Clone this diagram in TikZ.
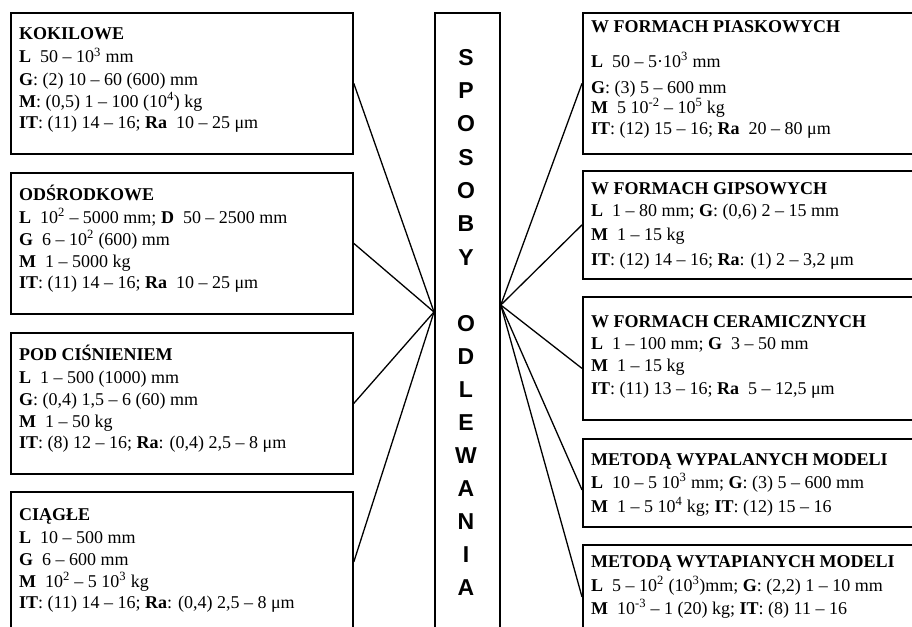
\documentclass[tikz,border=0pt]{standalone}
\usepackage{fontspec}
\setmainfont{Liberation Serif}
\newfontfamily\arialfam{Liberation Sans}
\newcommand\spr[1]{\textsuperscript{#1}}
\tikzset{
  box/.style={draw=black, line width=1.8pt, anchor=north west, inner sep=0pt, fill=none},
  conn/.style={draw=black, line width=1.3pt},
  txt/.style={anchor=base west, inner sep=0pt, font=\fontsize{18pt}{22pt}\selectfont},
  letter/.style={anchor=base, inner sep=0pt, font=\arialfam\bfseries\fontsize{23pt}{23pt}\selectfont}
}
\begin{document}
\begin{tikzpicture}[x=1pt, y=-1pt]
\useasboundingbox (0,0) rectangle (912,626);
\clip (0,0) rectangle (912,626);
\fill[white] (0,0) rectangle (912,626);

% left boxes
\node[box, minimum width=342pt, minimum height=141pt] (kok) at (10,12) {};
\node[box, minimum width=342pt, minimum height=141pt] (ods) at (10,172) {};
\node[box, minimum width=342pt, minimum height=141pt] (pod) at (10,332) {};
\node[box, minimum width=342pt, minimum height=140pt] (cia) at (10,491) {};
% center box
\node[box, minimum width=65pt, minimum height=640pt] (cbox) at (434,12) {};
% right boxes
\node[box, minimum width=348pt, minimum height=141pt] (pia) at (582,12) {};
\node[box, minimum width=348pt, minimum height=108pt] (gip) at (582,170) {};
\node[box, minimum width=348pt, minimum height=123pt] (cer) at (582,296) {};
\node[box, minimum width=348pt, minimum height=88pt] (wyp) at (582,438) {};
\node[box, minimum width=348pt, minimum height=104pt] (wyt) at (582,544) {};

% convergence points on the center box
\coordinate (cl) at ([yshift=-300pt]cbox.north west);
\coordinate (cr) at ([yshift=-293pt]cbox.north east);

% connectors
\draw[conn] (kok.east) -- (cl);
\draw[conn] (ods.east) -- (cl);
\draw[conn] (pod.east) -- (cl);
\draw[conn] (cia.east) -- (cl);
\draw[conn] (cr) -- (pia.west);
\draw[conn] (cr) -- (gip.west);
\draw[conn] (cr) -- ([yshift=-10pt]cer.west);
\draw[conn] (cr) -- ([yshift=-7pt]wyp.west);
\draw[conn] (cr) -- (wyt.west);

% center letters
\node[letter] (s1) at (466,65) {S};
\node[letter] (s2) at (466,98.3) {P};
\node[letter] (s3) at (466,131.7) {O};
\node[letter] (s4) at (466,165) {S};
\node[letter] (s5) at (466,198.3) {O};
\node[letter] (s6) at (466,231.7) {B};
\node[letter] (s7) at (466,265) {Y};
\node[letter] (o1) at (466,331) {O};
\node[letter] (o2) at (466,364) {D};
\node[letter] (o3) at (466,397) {L};
\node[letter] (o4) at (466,430) {E};
\node[letter] (o5) at (466,463) {W};
\node[letter] (o6) at (466,496) {A};
\node[letter] (o7) at (466,529) {N};
\node[letter] (o8) at (466,562) {I};
\node[letter] (o9) at (466,595) {A};

% KOKILOWE
\node[txt] (k1) at (19,40) {\textbf{KOKILOWE}};
\node[txt] (k2) at (19,63) {\textbf{L}\ \ 50 – 10\spr{3} mm};
\node[txt] (k3) at (19,85) {\textbf{G}: (2) 10 – 60 (600) mm};
\node[txt] (k4) at (19,107) {\textbf{M}: (0,5) 1 – 100 (10\spr{4}) kg};
\node[txt] (k5) at (19,128) {\textbf{IT}: (11) 14 – 16; \textbf{Ra}\ \ 10 – 25 μm};

% ODSRODKOWE
\node[txt] (d1) at (19,200) {\textbf{ODŚRODKOWE}};
\node[txt] (d2) at (19,223) {\textbf{L}\ \ 10\spr{2} – 5000 mm; \textbf{D}\ \ 50 – 2500 mm};
\node[txt] (d3) at (19,245) {\textbf{G}\ \ 6 – 10\spr{2} (600) mm};
\node[txt] (d4) at (19,267) {\textbf{M}\ \ 1 – 5000 kg};
\node[txt] (d5) at (19,288) {\textbf{IT}: (11) 14 – 16; \textbf{Ra}\ \ 10 – 25 μm};

% POD CISNIENIEM
\node[txt] (p1) at (19,360) {\textbf{POD CIŚNIENIEM}};
\node[txt] (p2) at (19,383) {\textbf{L}\ \ 1 – 500 (1000) mm};
\node[txt] (p3) at (19,405) {\textbf{G}: (0,4) 1,5 – 6 (60) mm};
\node[txt] (p4) at (19,427) {\textbf{M}\ \ 1 – 50 kg};
\node[txt] (p5) at (19,448) {\textbf{IT}: (8) 12 – 16; \textbf{Ra}: (0,4) 2,5 – 8 μm};

% CIAGLE
\node[txt] (c1) at (19,520) {\textbf{CIĄGŁE}};
\node[txt] (c2) at (19,543) {\textbf{L}\ \ 10 – 500 mm};
\node[txt] (c3) at (19,565) {\textbf{G}\ \ 6 – 600 mm};
\node[txt] (c4) at (19,587) {\textbf{M}\ \ 10\spr{2} – 5 10\spr{3} kg};
\node[txt] (c5) at (19,608) {\textbf{IT}: (11) 14 – 16; \textbf{Ra}: (0,4) 2,5 – 8 μm};

% PIASKOWYCH
\node[txt] (r1) at (591,33) {\textbf{W FORMACH PIASKOWYCH}};
\node[txt] (r2) at (591,67) {\textbf{L}\ \ 50 – 5·10\spr{3} mm};
\node[txt] (r3) at (591,93) {\textbf{G}: (3) 5 – 600 mm};
\node[txt] (r4) at (591,113) {\textbf{M}\ \ 5 10\spr{-2} – 10\spr{5} kg};
\node[txt] (r5) at (591,134) {\textbf{IT}: (12) 15 – 16; \textbf{Ra}\ \ 20 – 80 μm};

% GIPSOWYCH
\node[txt] (g1) at (591,194) {\textbf{W FORMACH GIPSOWYCH}};
\node[txt] (g2) at (591,216) {\textbf{L}\ \ 1 – 80 mm; \textbf{G}: (0,6) 2 – 15 mm};
\node[txt] (g3) at (591,240) {\textbf{M}\ \ 1 – 15 kg};
\node[txt] (g4) at (591,265) {\textbf{IT}: (12) 14 – 16; \textbf{Ra}: (1) 2 – 3,2 μm};

% CERAMICZNYCH
\node[txt] (e1) at (591,327) {\textbf{W FORMACH CERAMICZNYCH}};
\node[txt] (e2) at (591,349) {\textbf{L}\ \ 1 – 100 mm; \textbf{G}\ \ 3 – 50 mm};
\node[txt] (e3) at (591,371) {\textbf{M}\ \ 1 – 15 kg};
\node[txt] (e4) at (591,394) {\textbf{IT}: (11) 13 – 16; \textbf{Ra}\ \ 5 – 12,5 μm};

% WYPALANYCH
\node[txt] (w1) at (591,465) {\textbf{METODĄ WYPALANYCH MODELI}};
\node[txt] (w2) at (591,488) {\textbf{L}\ \ 10 – 5 10\spr{3} mm; \textbf{G}: (3) 5 – 600 mm};
\node[txt] (w3) at (591,512) {\textbf{M}\ \ 1 – 5 10\spr{4} kg; \textbf{IT}: (12) 15 – 16};

% WYTAPIANYCH
\node[txt] (t1) at (591,567) {\textbf{METODĄ WYTAPIANYCH MODELI}};
\node[txt] (t2) at (591,591) {\textbf{L}\ \ 5 – 10\spr{2} (10\spr{3})mm; \textbf{G}: (2,2) 1 – 10 mm};
\node[txt] (t3) at (591,614) {\textbf{M}\ \ 10\spr{-3} – 1 (20) kg; \textbf{IT}: (8) 11 – 16};
\end{tikzpicture}
\end{document}
